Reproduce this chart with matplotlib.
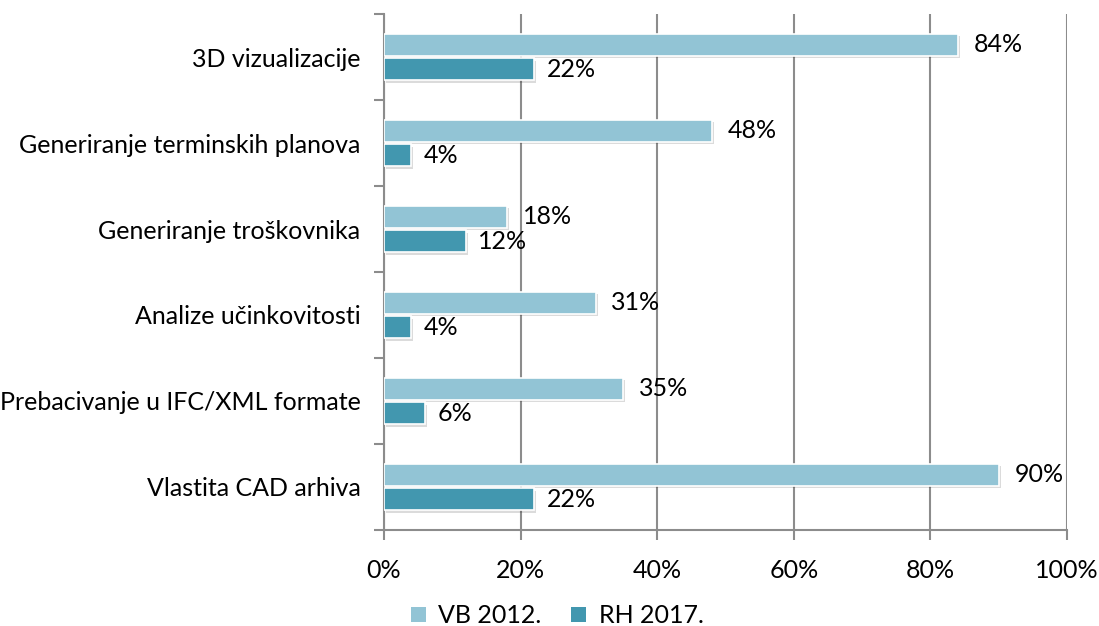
import matplotlib.pyplot as plt
import matplotlib.patheffects as pe
from matplotlib.patches import Patch
from matplotlib.ticker import FixedLocator, FuncFormatter
import numpy as np

categories = ['3D vizualizacije', 'Generiranje terminskih planova', 'Generiranje troškovnika',
              'Analize učinkovitosti', 'Prebacivanje u IFC/XML formate', 'Vlastita CAD arhiva']
vb_2012 = [84, 48, 18, 31, 35, 90]
rh_2017 = [22, 4, 12, 4, 6, 22]
series_names = ['VB 2012.', 'RH 2017.']

light = '#92C4D5'
dark = '#4297AF'
grid_col = '#8C8C8C'

plt.rcParams['font.family'] = ['Lato', 'DejaVu Sans']
plt.rcParams['font.size'] = 18

fig = plt.figure(figsize=(10.99, 6.26), dpi=100)
ax = fig.add_axes([0.3494, 0.1534, 0.6215, 0.8242])

y = np.arange(len(categories))
h = 0.256
off = 0.145
shadow = [pe.SimplePatchShadow(offset=(1.5, -2), shadow_rgbFace='#000000', alpha=0.14), pe.Normal()]

b1 = ax.barh(y - off, vb_2012, height=h, color=light, edgecolor='white', linewidth=1.2, zorder=3)
b2 = ax.barh(y + off, rh_2017, height=h, color=dark, edgecolor='white', linewidth=1.2, zorder=3)
for bars in (b1, b2):
    for p in bars:
        p.set_path_effects(shadow)

for i in range(len(categories)):
    ax.text(vb_2012[i] + 2.3, y[i] - off, f'{vb_2012[i]}%', va='center', ha='left', zorder=4)
    ax.text(rh_2017[i] + 1.8, y[i] + off, f'{rh_2017[i]}%', va='center', ha='left', zorder=4)

ax.set_xlim(0, 100)
ax.set_ylim(len(categories) - 0.5, -0.5)

ax.set_xticks([0, 20, 40, 60, 80, 100])
ax.xaxis.set_major_formatter(FuncFormatter(lambda v, _: f'{v:.0f}%'))
ax.grid(axis='x', color=grid_col, linewidth=1.5, zorder=1)
ax.set_yticks(y)
ax.set_yticklabels(categories)
ax.yaxis.set_minor_locator(FixedLocator(np.arange(-0.5, len(categories), 1.0)))
ax.tick_params(axis='y', which='major', length=0, pad=17)
ax.tick_params(axis='y', which='minor', length=7, width=1.5, color=grid_col)
ax.tick_params(axis='x', length=7, width=1.5, color=grid_col, pad=14)

for s in ['top', 'right']:
    ax.spines[s].set_visible(False)
for s in ['left', 'bottom']:
    ax.spines[s].set_color(grid_col)
    ax.spines[s].set_linewidth(1.5)

handles = [Patch(facecolor=light, edgecolor='none'), Patch(facecolor=dark, edgecolor='none')]
fig.legend(handles=handles, labels=series_names, loc='lower center', bbox_to_anchor=(0.507, -0.038),
           ncol=2, frameon=False, handlelength=0.6, handleheight=0.6, handletextpad=0.5,
           columnspacing=1.2)

fig.savefig('out.png', dpi=100)
